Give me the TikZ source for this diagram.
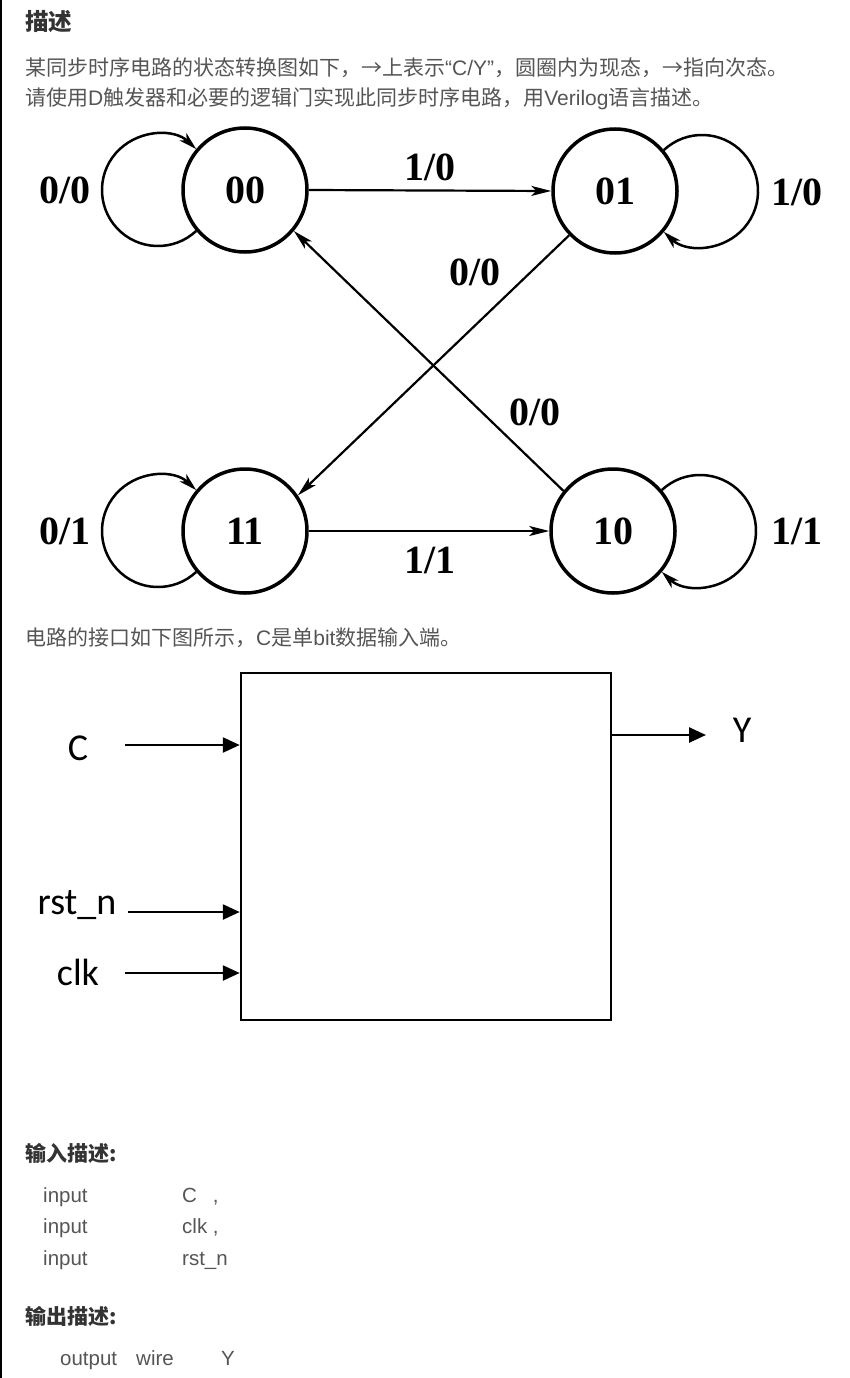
\documentclass[tikz,border=0pt]{standalone}
\usepackage{fontspec}
\setmainfont{Liberation Serif}
\newfontfamily\cjk{Noto Sans CJK SC}
\newfontfamily\arialf{Liberation Sans}
\newfontfamily\calfont{Carlito}
\usetikzlibrary{arrows.meta}
\definecolor{txtgray}{HTML}{555555}
\definecolor{ttl}{HTML}{333333}
\begin{document}
\begin{tikzpicture}[x=1pt,y=1pt,
  state/.style={circle,draw,line width=3.5pt,minimum size=124pt,inner sep=0pt,
    font=\fontsize{40}{40}\selectfont\bfseries},
  lbl/.style={inner sep=0pt,font=\fontsize{40}{40}\selectfont\bfseries},
  tr/.style={line width=2.2pt,-{Stealth[length=20pt,width=10pt,inset=5pt]}},
  lp/.style={line width=2.5pt,-{Stealth[length=18pt,width=10pt,inset=5pt]}},
  iarr/.style={line width=2.5pt,-{Triangle[length=17pt,width=15pt]}},
  iolbl/.style={inner sep=0pt,font=\calfont\fontsize{38}{38}\selectfont},
  cjktxt/.style={anchor=west,inner sep=0pt,text=txtgray,text height=18.5pt,text depth=2.5pt,
    font=\cjk\fontsize{21}{21}\selectfont},
  cjkttl/.style={anchor=west,inner sep=0pt,text=ttl,
    font=\cjk\bfseries\fontsize{23.5}{23.5}\selectfont},
  cjksub/.style={anchor=west,inner sep=0pt,text=ttl,text height=18.5pt,text depth=2.5pt,
    font=\cjk\bfseries\fontsize{21}{21}\selectfont},
  code/.style={anchor=west,inner sep=0pt,text=txtgray,text height=15pt,text depth=5pt,
    font=\arialf\fontsize{20.5}{20.5}\selectfont}
]
\useasboundingbox (0,0) rectangle (849,-1378);
\draw[line width=2pt] (1,0) -- (1,-1378);

% header text
\node[cjkttl] (title) at (25,-22) {描述};
\node[cjktxt] (l1) at (25,-68) {某同步时序电路的状态转换图如下，→上表示{\arialf “C/Y”}，圆圈内为现态，→指向次态。};
\node[cjktxt] (l2) at (25,-98) {请使用{\arialf D}触发器和必要的逻辑门实现此同步时序电路，用{\arialf Verilog}语言描述。};

% state diagram
\node[state] (s00) at (245,-190) {00};
\node[state] (s01) at (615,-191) {01};
\node[state] (s11) at (245,-531) {11};
\node[state] (s10) at (613,-531) {10};

\draw[tr] (s00.east) -- (s01.west);
\draw[tr] (s11.east) -- (s10.west);
\draw[tr] (s01.224) -- (s11.34);
\draw[tr] (s10.141) -- (s00.320);

\draw[lp] (s00.220) arc[start angle=-47,end angle=-313,radius=56];
\draw[lp] (s11.220) arc[start angle=-47,end angle=-313,radius=56];
\draw[lp] (s01.40) arc[start angle=133,end angle=-133,radius=56];
\draw[lp] (s10.40) arc[start angle=133,end angle=-133,radius=56];

\node[lbl] (a1) at (430,-167) {1/0};
\node[lbl] (a2) at (65,-190) {0/0};
\node[lbl] (a3) at (797,-192) {1/0};
\node[lbl] (a4) at (475,-272) {0/0};
\node[lbl] (a5) at (535,-412) {0/0};
\node[lbl] (a6) at (65,-531) {0/1};
\node[lbl] (a7) at (797,-531) {1/1};
\node[lbl] (a8) at (430,-560) {1/1};

% interface
\node[cjktxt] (l3) at (25,-637) {电路的接口如下图所示，{\arialf C}是单{\arialf bit}数据输入端。};
\node[draw,line width=2.5pt,minimum width=370pt,minimum height=347pt,inner sep=0pt] (box) at (426,-846.5) {};
\node[iolbl] (lc) at (78,-748) {C};
\node[iolbl] (lr) at (77,-905) {rst\_n};
\node[iolbl] (lk) at (78,-972) {clk};
\node[iolbl] (ly) at (742,-730) {Y};
\coordinate (cc) at (125,-745);
\coordinate (cr) at (128,-912);
\coordinate (ck) at (125,-973);
\coordinate (cy) at (706,-735);
\draw[iarr] (cc) -- (cc -| box.west);
\draw[iarr] (cr) -- (cr -| box.west);
\draw[iarr] (ck) -- (ck -| box.west);
\draw[iarr] (cy -| box.east) -- (cy);

% port description
\node[cjksub] (h1) at (25,-1153) {输入描述:};
\node[code] (i1) at (43,-1197) {input};
\node[code] (i2) at (43,-1228) {input};
\node[code] (i3) at (43,-1260) {input};
\node[code] (n1) at (182,-1197) {C\hspace{16pt},};
\node[code] (n2) at (182,-1228) {clk ,};
\node[code] (n3) at (182,-1260) {rst\_n};
\node[cjksub] (h2) at (25,-1316) {输出描述:};
\node[code] (o1) at (60,-1360) {output};
\node[code] (o2) at (136,-1360) {wire};
\node[code] (o3) at (221,-1360) {Y};
\end{tikzpicture}
\end{document}
